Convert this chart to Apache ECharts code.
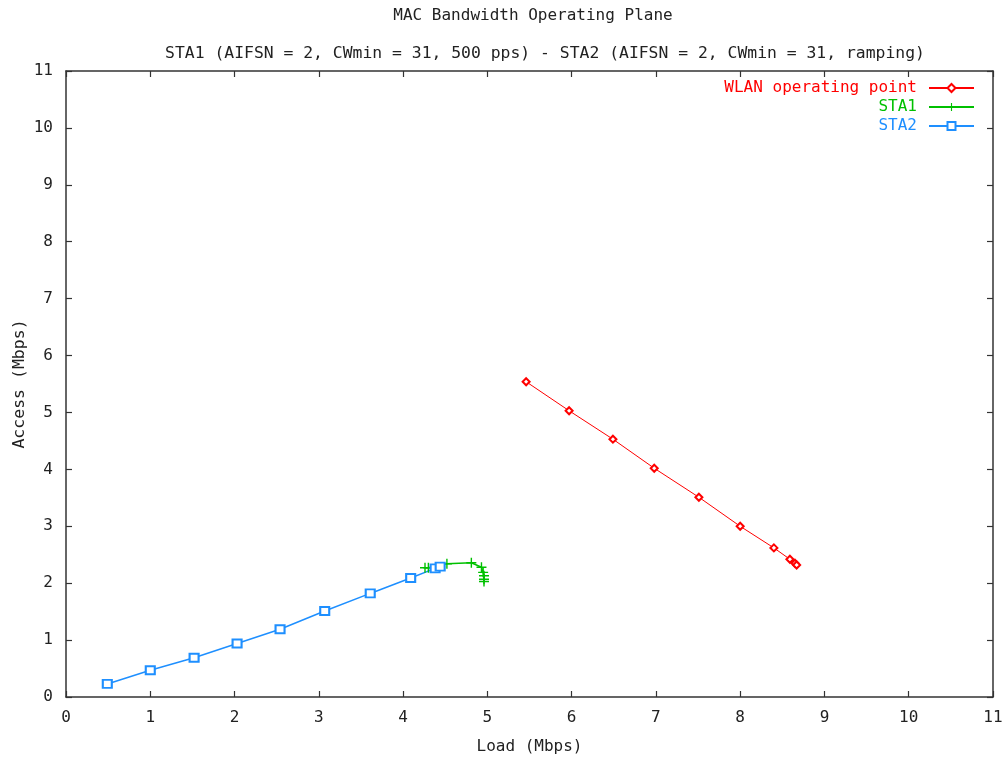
<!DOCTYPE html>
<html>
<head>
<meta charset="utf-8">
<script src="https://cdn.jsdelivr.net/npm/echarts@6/dist/echarts.min.js"></script>
<style>
html,body{margin:0;padding:0;background:#fff;}
#chart{width:1005px;height:759px;}
</style>
</head>
<body>
<div id="chart"></div>
<script>
const titleText = 'MAC Bandwidth Operating Plane';
const subtitleText = 'STA1 (AIFSN = 2, CWmin = 31, 500 pps) - STA2 (AIFSN = 2, CWmin = 31, ramping)';
const xAxisName = 'Load (Mbps)';
const yAxisName = 'Access (Mbps)';
const seriesNames = ['WLAN operating point', 'STA1', 'STA2'];
const axisMin = 0;
const axisMax = 11;
const axisStep = 1;

const wlanLoad   = [5.46, 5.97, 6.49, 6.98, 7.51, 8.00, 8.40, 8.59, 8.65, 8.67];
const wlanAccess = [5.54, 5.03, 4.53, 4.02, 3.51, 3.00, 2.62, 2.42, 2.35, 2.32];

const sta1Load   = [4.26, 4.30, 4.52, 4.81, 4.93, 4.95, 4.96, 4.96, 4.96];
const sta1Access = [2.27, 2.27, 2.34, 2.36, 2.28, 2.19, 2.13, 2.07, 2.03];

const sta2Load   = [0.49, 1.00, 1.52, 2.03, 2.54, 3.07, 3.61, 4.09, 4.38, 4.44];
const sta2Access = [0.23, 0.47, 0.69, 0.94, 1.19, 1.51, 1.82, 2.09, 2.26, 2.29];

const zip = (a, b) => a.map((v, i) => [v, b[i]]);
const FONT = 'DejaVu Sans Mono';
const AX = '#333333';
const plusPath = 'path://M4.3,0H5.7V4.3H10V5.7H5.7V10H4.3V5.7H0V4.3H4.3Z';

const chart = echarts.init(document.getElementById('chart'), null, {renderer: 'canvas'});

function axisBase(pos, show) {
  return {
    type: 'value', position: pos, min: axisMin, max: axisMax, interval: axisStep,
    axisLine: {show: true, onZero: false, lineStyle: {color: AX, width: 1.5}},
    axisTick: {show: true, inside: true, length: 6, lineStyle: {color: AX, width: 1.2}},
    axisLabel: {show: show, color: '#222', fontFamily: FONT, fontSize: 16},
    splitLine: {show: false}
  };
}

const xMain = Object.assign(axisBase('bottom', true), {
  name: xAxisName, nameLocation: 'middle', nameGap: 42,
  nameTextStyle: {color: '#222', fontFamily: FONT, fontSize: 16}
});
xMain.axisLabel.margin = 13;
const yMain = Object.assign(axisBase('left', true), {
  name: yAxisName, nameLocation: 'middle', nameGap: 38, nameRotate: 90,
  nameMoveOverlap: false,
  nameTextStyle: {color: '#222', fontFamily: FONT, fontSize: 16.5}
});
yMain.axisLabel.margin = 13;

chart.setOption({
  backgroundColor: '#ffffff',
  animation: false,
  title: [
    {text: titleText, left: 528, top: 3, textAlign: 'center',
     textStyle: {fontFamily: FONT, fontSize: 16, fontWeight: 'normal', color: '#222'}},
    {text: subtitleText, left: 540, top: 41, textAlign: 'center',
     textStyle: {fontFamily: FONT, fontSize: 16.4, fontWeight: 'normal', color: '#222'}}
  ],
  grid: {left: 66, right: 12, top: 71, bottom: 62, containLabel: false, outerBoundsMode: 'none'},
  legend: {
    orient: 'vertical', right: 25, top: 75, align: 'right',
    itemWidth: 45, itemHeight: 10, itemGap: 3,
    textStyle: {fontFamily: FONT, fontSize: 16, padding: [0, 7, 0, 0]},
    data: [
      {name: seriesNames[0], textStyle: {color: '#ff0000'}},
      {name: seriesNames[1], textStyle: {color: '#00c000'}},
      {name: seriesNames[2], textStyle: {color: '#1e8fff'}}
    ]
  },
  xAxis: [xMain, axisBase('top', false)],
  yAxis: [yMain, axisBase('right', false)],
  series: [
    {
      name: seriesNames[0], type: 'line', data: zip(wlanLoad, wlanAccess),
      symbol: 'emptyDiamond', symbolSize: 7,
      lineStyle: {color: '#ff0000', width: 1},
      itemStyle: {color: '#ff0000', borderColor: '#ff0000', borderWidth: 1}
    },
    {
      name: seriesNames[1], type: 'line', data: zip(sta1Load, sta1Access),
      symbol: plusPath, symbolSize: 10,
      lineStyle: {color: '#00c000', width: 1.5},
      itemStyle: {color: '#00c000'}
    },
    {
      name: seriesNames[2], type: 'line', data: zip(sta2Load, sta2Access),
      symbol: 'emptyRect', symbolSize: [9, 8],
      lineStyle: {color: '#1e8fff', width: 1.5},
      itemStyle: {color: '#1e8fff', borderColor: '#1e8fff', borderWidth: 1.5}
    }
  ]
});
</script>
</body>
</html>
